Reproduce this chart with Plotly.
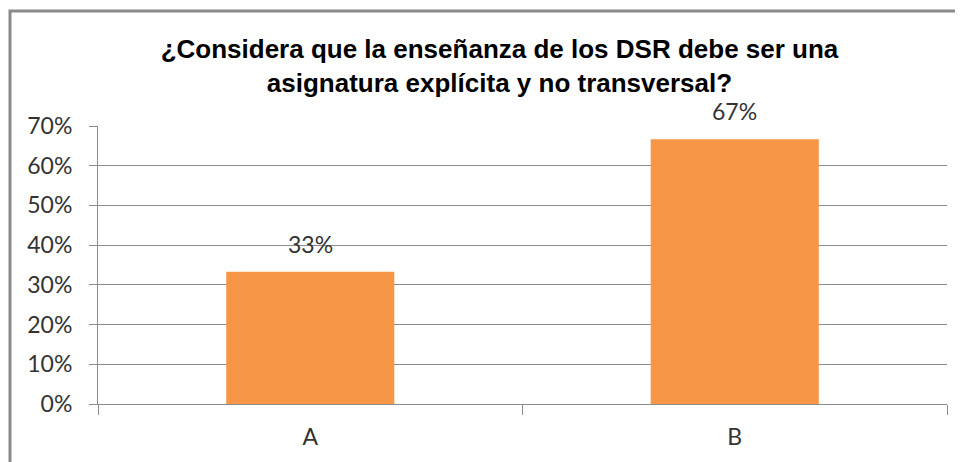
import plotly.graph_objects as go

categories = ["A", "B"]
values = [0.3333, 0.6667]
labels = ["33%", "67%"]
title_text = "¿Considera que la enseñanza de los DSR debe ser una<br>asignatura explícita y no transversal?"

# the page body has an 8px margin, so figure pixels = window pixels - 8
OFF = 8
W, H = 963, 462
L = 98 - OFF
T = 126 - OFF
R = W - (947 - OFF)
B = H - (404 - OFF)
pw, ph = W - L - R, H - T - B

text_font = dict(family="Lato, Carlito, Calibri, sans-serif", size=23, color="#333333")
grid_col = "#8C8C8C"

fig = go.Figure()
fig.add_trace(go.Bar(
    x=categories, y=values, width=0.396,
    marker=dict(color="#F79646", line=dict(width=0)),
    hoverinfo="skip",
))

for c, v, t in zip(categories, values, labels):
    fig.add_annotation(x=c, y=v, text=t, showarrow=False, xref="x", yref="y",
                       yanchor="bottom", yshift=12, font=text_font)

# chart frame (extends beyond the window on right and bottom)
x0 = (10 - OFF - L) / pw
y1 = 1 + (T - (11 - OFF)) / ph
fig.add_shape(type="rect", xref="paper", yref="paper",
              x0=x0, x1=1.2, y0=-0.5, y1=y1,
              line=dict(color="#8A8A8A", width=3), layer="below")

fig.update_layout(
    width=W, height=H,
    margin=dict(l=L, r=R, t=T, b=B, pad=0, autoexpand=False),
    paper_bgcolor="white", plot_bgcolor="white",
    showlegend=False,
    title=dict(text=title_text, x=(499.5 - OFF) / W, xanchor="center", xref="container",
               y=1 - (58 - OFF) / H, yanchor="middle", yref="container",
               font=dict(family="Liberation Sans, Arial, sans-serif", size=26,
                         color="#000000", weight="bold")),
)
fig.update_yaxes(range=[0, 0.7], dtick=0.1, tickformat=".0%",
                 showgrid=True, gridcolor=grid_col, gridwidth=1,
                 showline=True, linecolor=grid_col, linewidth=1,
                 ticks="outside", ticklen=8, tickcolor=grid_col,
                 ticklabelstandoff=12, zeroline=False,
                 tickfont=text_font, fixedrange=True)
fig.update_xaxes(type="category", range=[-0.5, 1.5],
                 showline=True, linecolor=grid_col, linewidth=1,
                 ticks="outside", ticklen=10, tickcolor=grid_col,
                 tickson="boundaries", showgrid=False,
                 ticklabelstandoff=12,
                 tickfont=text_font, fixedrange=True)

fig.write_html("out.html")
